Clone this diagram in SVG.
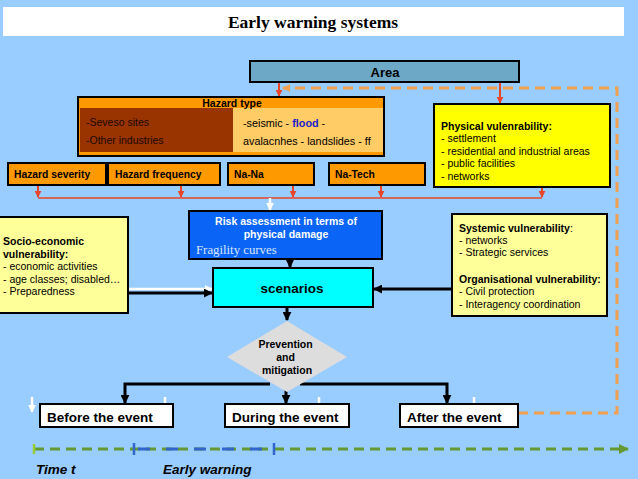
<svg xmlns="http://www.w3.org/2000/svg" width="638" height="479" viewBox="0 0 638 479">
<defs>
<style>
.s{font-family:"Liberation Sans",Arial,sans-serif;}
.b{font-weight:bold;}
.box{stroke:#000;stroke-width:2;}
.red{stroke:#E8452C;stroke-width:2;fill:none;}
.blk{stroke:#000;stroke-width:3;fill:none;}
.wht{stroke:#fff;stroke-width:2.5;fill:none;}
</style>
<marker id="ar" viewBox="0 0 10 10" refX="9" refY="5" markerWidth="7" markerHeight="7" markerUnits="userSpaceOnUse" orient="auto"><path d="M0,0 L10,5 L0,10 z" fill="#E8452C"/></marker>
<marker id="ab" viewBox="0 0 10 10" refX="9" refY="5" markerWidth="9" markerHeight="9" markerUnits="userSpaceOnUse" orient="auto"><path d="M0,0 L10,5 L0,10 z" fill="#000"/></marker>
<marker id="aw" viewBox="0 0 10 10" refX="9" refY="5" markerWidth="8" markerHeight="8" markerUnits="userSpaceOnUse" orient="auto"><path d="M0,0 L10,5 L0,10 z" fill="#fff"/></marker>
<marker id="ao" viewBox="0 0 10 10" refX="9" refY="5" markerWidth="8" markerHeight="8" markerUnits="userSpaceOnUse" orient="auto"><path d="M0,0 L10,5 L0,10 z" fill="#F0A050"/></marker>
<marker id="ag" viewBox="0 0 10 10" refX="9" refY="5" markerWidth="10" markerHeight="10" markerUnits="userSpaceOnUse" orient="auto"><path d="M0,0 L10,5 L0,10 z" fill="#669933"/></marker>
</defs>
<rect x="0" y="0" width="638" height="479" fill="#99CCFF"/>

<g id="title">
<rect x="3" y="7" width="621" height="29" fill="#fff"/>
<text x="313" y="28" text-anchor="middle" font-family="Liberation Serif,Times New Roman,serif" font-weight="bold" font-size="17.5">Early warning systems</text>
</g>

<g id="connectors">
<line class="red" x1="279" y1="82" x2="279" y2="96" marker-end="url(#ar)"/>
<line class="red" x1="500" y1="82" x2="500" y2="103" marker-end="url(#ar)"/>
<path d="M518,413 H617 V88 H283" fill="none" stroke="#F0A050" stroke-width="3" stroke-dasharray="10,6" marker-end="url(#ao)"/>
<line class="red" x1="38" y1="185" x2="38" y2="197" marker-end="url(#ar)"/>
<line class="red" x1="181" y1="185" x2="181" y2="197" marker-end="url(#ar)"/>
<line class="red" x1="293" y1="185" x2="293" y2="197" marker-end="url(#ar)"/>
<line class="red" x1="381" y1="185" x2="381" y2="197" marker-end="url(#ar)"/>
<line class="red" x1="542" y1="187" x2="542" y2="197" marker-end="url(#ar)"/>
<line x1="38" y1="198" x2="542" y2="198" stroke="#E8452C" stroke-width="1.3"/>
<line class="wht" x1="270" y1="198" x2="270" y2="210" marker-end="url(#aw)"/>
<line class="blk" x1="290" y1="259" x2="290" y2="267" marker-end="url(#ab)"/>
<line class="wht" x1="128" y1="289" x2="212" y2="289" marker-end="url(#aw)"/>
<line class="blk" x1="128" y1="293" x2="212" y2="293" marker-end="url(#ab)"/>
<line class="blk" x1="452" y1="289" x2="374" y2="289" marker-end="url(#ab)"/>
<line class="blk" x1="287" y1="307" x2="287" y2="320" marker-end="url(#ab)"/>
<path class="blk" d="M270,384 H125 V403" marker-end="url(#ab)"/>
<path class="blk" d="M300,384 H447 V403" marker-end="url(#ab)"/>
<line class="blk" x1="286" y1="390" x2="286" y2="403" marker-end="url(#ab)"/>
<line class="wht" x1="32" y1="397" x2="32" y2="412" marker-end="url(#aw)"/>
<line class="wht" x1="165" y1="397" x2="165" y2="404"/>
<line class="wht" x1="319" y1="397" x2="319" y2="404"/>
<line class="wht" x1="474" y1="397" x2="474" y2="404"/>
</g>

<g id="area">
<rect class="box" x="250" y="61" width="269" height="21" fill="#6DA9C6"/>
<text class="s b" x="385" y="76.5" text-anchor="middle" font-size="13">Area</text>
</g>

<g id="hazard-type">
<rect class="box" x="78" y="97" width="306" height="59" fill="#FF9900"/>
<rect x="80" y="108" width="153" height="44" fill="#993300"/>
<rect x="233" y="108" width="150" height="44" fill="#FFCC66"/>
<text class="s b" x="232" y="107" text-anchor="middle" font-size="10.5">Hazard type</text>
<text class="s" x="86" y="126" font-size="10.5" fill="#1a0a00">-Seveso sites</text>
<text class="s" x="86" y="144" font-size="10.5" fill="#1a0a00">-Other industries</text>
<text class="s" x="243" y="127" font-size="10.8">-seismic - <tspan fill="#1a1acc" font-weight="bold">flood</tspan> -</text>
<text class="s" x="243" y="145" font-size="10.8">avalacnhes - landslides - ff</text>
</g>

<g id="physical-vulnerability">
<rect class="box" x="434" y="104" width="176" height="83" fill="#FFFF00"/>
<text class="s" font-size="10.5">
<tspan class="b" y="130" x="441">Physical vulenrability:</tspan>
<tspan y="142" x="441"> - settlement</tspan>
<tspan y="155" x="441"> - residential and industrial areas</tspan>
<tspan y="167" x="441"> - public facilities</tspan>
<tspan y="180" x="441">-  networks</tspan>
</text>
</g>

<g id="hazard-severity">
<rect class="box" x="8" y="163" width="98" height="22" fill="#FF9900"/>
<text class="s b" x="14" y="177.5" font-size="10.3">Hazard severity</text>
</g>
<g id="hazard-frequency">
<rect class="box" x="108" y="163" width="112" height="22" fill="#FF9900"/>
<text class="s b" x="115" y="177.5" font-size="10.3">Hazard frequency</text>
</g>
<g id="na-na">
<rect class="box" x="228" y="163" width="86" height="22" fill="#FF9900"/>
<text class="s b" x="234" y="177.5" font-size="10.3">Na-Na</text>
</g>
<g id="na-tech">
<rect class="box" x="329" y="163" width="96" height="22" fill="#FF9900"/>
<text class="s b" x="335" y="177.5" font-size="10.3">Na-Tech</text>
</g>

<g id="risk-assessment">
<rect class="box" x="189" y="211" width="193" height="48" fill="#0A64F5"/>
<text class="s b" x="286" y="225" text-anchor="middle" font-size="10.5" fill="#fff">Risk assessment in terms of</text>
<text class="s b" x="286" y="238" text-anchor="middle" font-size="10.5" fill="#fff">physical damage</text>
<text x="196" y="254" font-family="Liberation Serif,Times New Roman,serif" font-size="12.8" fill="#D8E4FF">Fragility curves</text>
</g>

<g id="socio-economic">
<rect class="box" x="-2" y="217" width="130" height="96" fill="#FFFF99"/>
<text class="s" font-size="10.5">
<tspan class="b" x="3" y="245">Socio-economic</tspan>
<tspan class="b" x="3" y="258">vulnerability:</tspan>
<tspan x="3" y="270">- economic activities</tspan>
<tspan x="3" y="283">- age classes; disabled…</tspan>
<tspan x="3" y="295">- Preparedness</tspan>
</text>
</g>

<g id="systemic">
<rect class="box" x="452" y="214" width="155" height="102" fill="#FFFF99"/>
<text class="s" font-size="10.5">
<tspan x="459" y="232"><tspan class="b">Systemic vulnerability</tspan>:</tspan>
<tspan x="459" y="244">- networks</tspan>
<tspan x="459" y="256">- Strategic services</tspan>
<tspan class="b" x="459" y="283">Organisational vulnerability:</tspan>
<tspan x="459" y="295">- Civil protection</tspan>
<tspan x="459" y="308">- Interagency coordination</tspan>
</text>
</g>

<g id="scenarios">
<rect class="box" x="213" y="268" width="160" height="39" fill="#00FFFF"/>
<text class="s b" x="292" y="293" text-anchor="middle" font-size="13.5">scenarios</text>
</g>

<g id="prevention">
<polygon points="287,321 347,357 287,392 227,357" fill="#DDDDDD"/>
<text class="s b" font-size="10.5" text-anchor="middle">
<tspan x="287" y="348">Prevention</tspan>
<tspan x="287" y="361">and</tspan>
<tspan x="287" y="374">mitigation</tspan>
</text>
</g>

<g id="before">
<rect class="box" x="40" y="404" width="133" height="23" fill="#fff"/>
<text class="s b" x="47" y="421.5" font-size="13.5">Before the event</text>
</g>
<g id="during">
<rect class="box" x="225" y="404" width="124" height="23" fill="#fff"/>
<text class="s b" x="232" y="421.5" font-size="13.5">During the event</text>
</g>
<g id="after">
<rect class="box" x="400" y="404" width="118" height="23" fill="#fff"/>
<text class="s b" x="407" y="421.5" font-size="13.5">After the event</text>
</g>

<g id="timeline">
<line x1="34" y1="449" x2="628" y2="449" stroke="#669933" stroke-width="3" stroke-dasharray="10,6" marker-end="url(#ag)"/>
<line x1="34" y1="444" x2="34" y2="454" stroke="#99CC33" stroke-width="2.5"/>
<line x1="134" y1="449" x2="274" y2="449" stroke="#3366CC" stroke-width="3" stroke-dasharray="12,16" stroke-dashoffset="-4"/>
<line x1="134" y1="443" x2="134" y2="455" stroke="#3366CC" stroke-width="2.5"/>
<line x1="274" y1="443" x2="274" y2="455" stroke="#3366CC" stroke-width="2.5"/>
<text class="s b" x="36" y="474" font-size="13.5" font-style="italic">Time t</text>
<text class="s b" x="163" y="474" font-size="13.5" font-style="italic">Early warning</text>
</g>
</svg>
